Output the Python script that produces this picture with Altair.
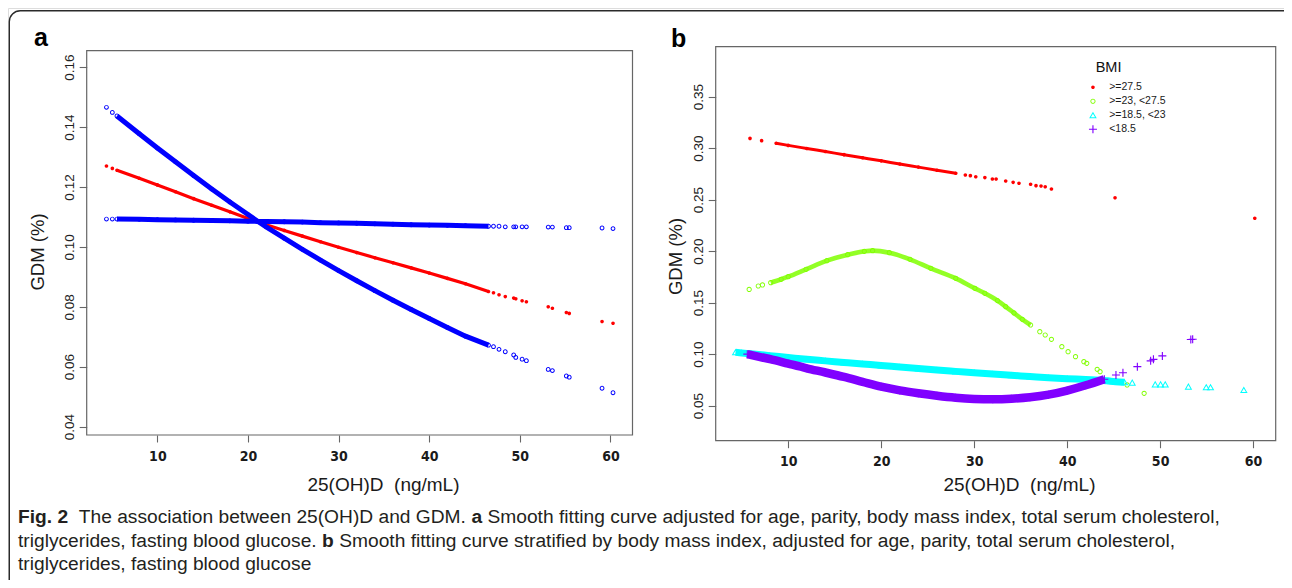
import altair as alt
import pandas as pd

# ---------------- panel a : estimate (red) and 95% CI (blue) ----------------
A_X = [4.38, 5.03, 5.54, 8, 10, 12, 14, 16, 18, 20, 21.15, 22, 24, 26, 28, 30, 32, 34, 36, 38, 40, 42, 44, 46.54,
       47.09, 47.7, 48.39, 49.32, 49.55, 50.25, 50.72, 53.13, 53.59, 55.13, 55.45, 59.07, 60.28]
A_FIT = [0.1270, 0.1262, 0.1256, 0.1229, 0.1207, 0.1184, 0.1161, 0.1139, 0.1117, 0.1095, 0.1083, 0.1074, 0.1055,
         0.1036, 0.1017, 0.0999, 0.0981, 0.0964, 0.0947, 0.0930, 0.0913, 0.0895, 0.0877, 0.0851,
         0.0847, 0.0840, 0.0834, 0.0829, 0.0827, 0.0820, 0.0817, 0.0800, 0.0795, 0.0781, 0.0778, 0.0751, 0.0745]
A_CI_STEEP = [0.1466, 0.1449, 0.1437, 0.1378, 0.1330, 0.1284, 0.1238, 0.1193, 0.1150, 0.1108, 0.1084, 0.1067, 0.1029,
              0.0992, 0.0956, 0.0921, 0.0887, 0.0854, 0.0822, 0.0791, 0.0761, 0.0731, 0.0702, 0.0672,
              0.0667, 0.0658, 0.0650, 0.0639, 0.0631, 0.0625, 0.0620, 0.0591, 0.0587, 0.0569, 0.0565, 0.0528, 0.0513]
A_CI_FLAT = [0.1093, 0.1093, 0.1093, 0.1092, 0.1091, 0.1090, 0.1089, 0.1088, 0.1087, 0.1086, 0.1085, 0.1085, 0.1084,
             0.1083, 0.1081, 0.1080, 0.1079, 0.1077, 0.1076, 0.1074, 0.1073, 0.1072, 0.1071, 0.1069,
             0.1069, 0.1069, 0.1067, 0.1067, 0.1067, 0.1067, 0.1067, 0.1066, 0.1066, 0.1064, 0.1064, 0.1063, 0.1061]

# ---------------- panel b : stratified by BMI ----------------
B_GROUPS = [">=27.5", ">=23, <27.5", ">=18.5, <23", "<18.5"]
B1_X = [5.89, 7.14, 8.70, 10, 12, 14, 16, 18, 20, 22, 24, 26, 28.02, 29.05, 29.59, 30.17, 31.15, 31.96, 32.36,
        33.39, 34.19, 34.82, 36.07, 36.65, 37.19, 37.64, 38.31, 45.15, 60.18]
B1_Y = [0.3095, 0.3073, 0.3047, 0.3027, 0.2997, 0.2967, 0.2937, 0.2907, 0.2877, 0.2846, 0.2816, 0.2786, 0.2756,
        0.2740, 0.2733, 0.2723, 0.2714, 0.2701, 0.2701, 0.2681, 0.2668, 0.2660, 0.2649, 0.2636, 0.2633, 0.2626,
        0.2604, 0.2519, 0.2319]
B2_X = [5.80, 6.78, 7.23, 8.12, 9.24, 10.0, 11.92, 14.16, 16.40, 18.18, 19.08, 20.87, 23.10, 25.34, 28.02, 30.08,
        31.15, 32.50, 33.39, 34.28, 35.18, 36.07, 37.06, 37.64, 38.31, 39.43, 40.10, 40.90, 41.80, 42.11, 43.23,
        43.54, 46.45, 48.28]
B2_Y = [0.1629, 0.1662, 0.1672, 0.1694, 0.1727, 0.1752, 0.1824, 0.1908, 0.1966, 0.1998, 0.2005, 0.1985, 0.1921,
        0.1833, 0.1736, 0.1639, 0.1591, 0.1520, 0.1461, 0.1400, 0.1338, 0.1283, 0.1218, 0.1186, 0.1144, 0.1073,
        0.1024, 0.0976, 0.0927, 0.0911, 0.0853, 0.0830, 0.0701, 0.0620]
B3_X = [4.33, 5.0, 6, 8, 10, 12, 14, 16, 18, 20, 22, 24, 26, 28, 30, 32, 34, 36, 38, 40, 42, 44, 44.66, 45.2,
        46.17, 47.0, 49.47, 50.05, 50.55, 53.04, 54.96, 55.42, 59.0]
B3_Y = [0.1018, 0.1012, 0.1004, 0.0986, 0.0968, 0.0950, 0.0935, 0.0920, 0.0905, 0.0891, 0.0875, 0.0860, 0.0846,
        0.0833, 0.0820, 0.0807, 0.0795, 0.0783, 0.0771, 0.0762, 0.0754, 0.0745, 0.0738, 0.0733, 0.0727, 0.0723,
        0.0706, 0.0706, 0.0706, 0.0684, 0.0679, 0.0679, 0.0652]
B4_X = [5.6, 7, 8.17, 10, 12, 14, 16, 18, 20, 22, 24, 26, 28, 30, 32, 34, 36, 38, 40, 42, 44, 45.25, 46.0, 47.55,
        48.98, 49.28, 50.24, 53.3, 53.5]
B4_Y = [0.1000, 0.0972, 0.0950, 0.0908, 0.0863, 0.0822, 0.0779, 0.0731, 0.0684, 0.0648, 0.0620, 0.0596, 0.0577,
        0.0566, 0.0563, 0.0568, 0.0582, 0.0607, 0.0647, 0.0698, 0.0757, 0.0798, 0.0820, 0.0879, 0.0935, 0.0950,
        0.0983, 0.1142, 0.1145]

X_TICKS = [10, 20, 30, 40, 50, 60]
A_Y_TICKS = [0.04, 0.06, 0.08, 0.10, 0.12, 0.14, 0.16]
B_Y_TICKS = [0.05, 0.10, 0.15, 0.20, 0.25, 0.30, 0.35]
X_TITLE = "25(OH)D\u00a0 (ng/mL)"
Y_TITLE = "GDM (%)"
LEGEND_TITLE = "BMI"
PANEL_LABELS = ["a", "b"]
CAPTION = [
    [("Fig. 2", True), ("The association between 25(OH)D and GDM.", False), ("a", True),
     ("Smooth fitting curve adjusted for age, parity, body mass index, total serum cholesterol,", False)],
    [("triglycerides, fasting blood glucose.", False), ("b", True),
     ("Smooth fitting curve stratified by body mass index, adjusted for age, parity, total serum cholesterol,", False)],
    [("triglycerides, fasting blood glucose", False)],
]

# ---------------- layout / style ----------------
W, H = 1276, 572
SANS = "Liberation Sans, Arial, sans-serif"
NARROW = "Liberation Sans Narrow, Arial Narrow, DejaVu Sans Condensed, sans-serif"
BOX = "#666666"
TXT = "#1a1a1a"

A_XDOM, A_YDOM = [2.2, 62.43], [0.0372, 0.1655]
B_XDOM, B_YDOM = [2.2, 62.43], [0.016, 0.3985]
A_XR, A_YR = [78.7, 624.5], [427.0, 42.7]
B_XR, B_YR = [707.7, 1267.7], [432.7, 38.7]

DOT = "M-0.45,0A0.45,0.45 0 1,0 0.45,0A0.45,0.45 0 1,0 -0.45,0Z"
RING = ("M-0.65,0A0.65,0.65 0 1,0 0.65,0A0.65,0.65 0 1,0 -0.65,0Z "
        "M-0.42,0A0.42,0.42 0 1,1 0.42,0A0.42,0.42 0 1,1 -0.42,0Z")
RING_A = ("M-0.6,0A0.6,0.6 0 1,0 0.6,0A0.6,0.6 0 1,0 -0.6,0Z "
          "M-0.36,0A0.36,0.36 0 1,1 0.36,0A0.36,0.36 0 1,1 -0.36,0Z")
TRI = "M0,-0.9L0.95,0.75L-0.95,0.75Z M0,-0.4L-0.52,0.5L0.52,0.5Z"
PLUS = ("M-1,-0.14L-0.14,-0.14L-0.14,-1L0.14,-1L0.14,-0.14L1,-0.14L1,0.14L0.14,0.14L0.14,1L-0.14,1"
        "L-0.14,0.14L-1,0.14Z")
B_COLORS = ["#FF0000", "#80FF00", "#00FFFF", "#8000FF"]
B_SHAPES = [DOT, RING, TRI, PLUS]


def x_axis(offset, title_x, title_y):
    return alt.Axis(orient="bottom", offset=offset, values=X_TICKS, format="d", grid=False, domain=False,
                    tickSize=7, tickColor=BOX, tickWidth=1.1, labelFont=NARROW, labelFontSize=14,
                    labelFontWeight="bold", labelColor=TXT, labelPadding=7, labelFlush=False,
                    title=X_TITLE, titleFont=SANS, titleFontSize=19, titleFontWeight="normal", titleColor=TXT,
                    titleX=title_x, titleY=title_y, titleAlign="center", titleBaseline="alphabetic")


def y_axis(offset, ticks, title_x, title_y, pad):
    return alt.Axis(orient="left", offset=offset, values=ticks, format=".2f", grid=False, domain=False,
                    tickSize=7.5, tickColor=BOX, tickWidth=1.1, labelFont=SANS, labelFontSize=13.5,
                    labelColor="#222222", labelAngle=270, labelAlign="center", labelBaseline="alphabetic",
                    labelPadding=pad, labelFlush=False,
                    title=Y_TITLE, titleFont=SANS, titleFontSize=18.5, titleFontWeight="normal", titleColor=TXT,
                    titleAngle=270, titleX=title_x, titleY=title_y, titleAlign="center",
                    titleBaseline="alphabetic")


def sc(dom, rng):
    return alt.Scale(domain=dom, range=rng, nice=False, zero=False)


units = []

# ---------------- panel a ----------------
df_a = pd.DataFrame({"x": A_X, "fit": A_FIT, "steep": A_CI_STEEP, "flat": A_CI_FLAT})
box_a = pd.DataFrame({"x1": [A_XDOM[0]], "x2": [A_XDOM[1]], "y1": [A_YDOM[0]], "y2": [A_YDOM[1]]})

units.append(alt.Chart(box_a).mark_rect(fill="transparent", stroke=BOX, strokeWidth=1.2).encode(
    x=alt.X("x1:Q", scale=sc(A_XDOM, A_XR), axis=x_axis(A_YR[0] - H, 375, 55)),
    x2="x2:Q",
    y=alt.Y("y1:Q", scale=sc(A_YDOM, A_YR), axis=y_axis(-A_XR[0], A_Y_TICKS, -42.7, 243.5, 5.7)),
    y2="y2:Q",
))
for field, color, width, shape in [("fit", "#FF0000", 3.2, DOT), ("steep", "#0000FF", 5, RING_A),
                                   ("flat", "#0000FF", 5, RING_A)]:
    base = alt.Chart(df_a)
    units.append(
        base.mark_line(color=color, strokeWidth=width).transform_filter(
            (alt.datum.x >= 5.5) & (alt.datum.x <= 46.6)
        ).encode(x=alt.X("x:Q", scale=sc(A_XDOM, A_XR), axis=None),
                 y=alt.Y(f"{field}:Q", scale=sc(A_YDOM, A_YR), axis=None))
    )
    units.append(
        base.mark_point(shape=shape, filled=True, size=64, color=color, opacity=1, strokeWidth=0).encode(
            x=alt.X("x:Q", scale=sc(A_XDOM, A_XR), axis=None),
            y=alt.Y(f"{field}:Q", scale=sc(A_YDOM, A_YR), axis=None))
    )

# ---------------- panel b ----------------
rows = []
for g, xs, ys in zip(B_GROUPS, [B1_X, B2_X, B3_X, B4_X], [B1_Y, B2_Y, B3_Y, B4_Y]):
    for xv, yv in zip(xs, ys):
        rows.append({"x": xv, "y": yv, "group": g})
df_b = pd.DataFrame(rows)
box_b = pd.DataFrame({"x1": [B_XDOM[0]], "x2": [B_XDOM[1]], "y1": [B_YDOM[0]], "y2": [B_YDOM[1]]})

legend = alt.Legend(title=None, orient="none", legendX=1079.7, legendY=74, padding=0,
                    labelFont=SANS, labelFontSize=10.5, labelColor=TXT, labelOffset=11,
                    symbolSize=64, symbolStrokeWidth=0, rowPadding=3)

units.append(alt.Chart(box_b).mark_rect(fill="transparent", stroke=BOX, strokeWidth=1.2).encode(
    x=alt.X("x1:Q", scale=sc(B_XDOM, B_XR), axis=x_axis(B_YR[0] - H, 1011, 49.3)),
    x2="x2:Q",
    y=alt.Y("y1:Q", scale=sc(B_YDOM, B_YR), axis=y_axis(-B_XR[0], B_Y_TICKS, -34.1, 248, 6.2)),
    y2="y2:Q",
))
dense = [(8.6, 28.1, 3.0, 1.0), (8.1, 36.1, 4.6, 0.85), (4.3, 46.2, 7.0, 1.0), (5.5, 44.1, 8.5, 1.0)]
for i, (g, col, (lo, hi, w, op)) in enumerate(zip(B_GROUPS, B_COLORS, dense)):
    base = alt.Chart(df_b).transform_filter(alt.datum.group == g)
    units.append(
        base.mark_line(color=col, strokeWidth=w, opacity=op, interpolate="monotone").transform_filter(
            (alt.datum.x >= lo) & (alt.datum.x <= hi)
        ).encode(x=alt.X("x:Q", scale=sc(B_XDOM, B_XR), axis=None),
                 y=alt.Y("y:Q", scale=sc(B_YDOM, B_YR), axis=None))
    )
    leg = legend if i == 0 else None
    units.append(base.mark_point(filled=True, size=64, opacity=1, strokeWidth=0).encode(
        x=alt.X("x:Q", scale=sc(B_XDOM, B_XR), axis=None),
        y=alt.Y("y:Q", scale=sc(B_YDOM, B_YR), axis=None),
        color=alt.Color("group:N", scale=alt.Scale(domain=B_GROUPS, range=B_COLORS), legend=leg),
        shape=alt.Shape("group:N", scale=alt.Scale(domain=B_GROUPS, range=B_SHAPES), legend=leg),
    ))

# ---------------- frame, panel letters, legend title, caption ----------------
one = pd.DataFrame({"k": [0]})
units.append(
    alt.Chart(one).mark_rect(fill="transparent", stroke="#2a2a2a", strokeWidth=1.4, cornerRadius=11).encode(
        x=alt.value(1.3), x2=alt.value(1300), y=alt.value(2.7), y2=alt.value(600))
)
for lab, (px, py) in zip(PANEL_LABELS, [(26, 37.5), (663, 38.5)]):
    units.append(alt.Chart(one).mark_text(text=lab, font=SANS, fontSize=25, fontWeight="bold", color="#000000",
                                          align="left", baseline="alphabetic").encode(
        x=alt.value(px), y=alt.value(py)))
units.append(alt.Chart(one).mark_text(text=LEGEND_TITLE, font=SANS, fontSize=14.5, color="#111111",
                                      align="left", baseline="alphabetic").encode(
    x=alt.value(1087.7), y=alt.value(64)))
CAP_X = [[10, 70.8, 463.5, 479.5], [10, 314, 331.2], [10]]
CAP_Y = [515, 538.7, 562]
for line, xs, yv in zip(CAPTION, CAP_X, CAP_Y):
    for (txt, bold), xv in zip(line, xs):
        units.append(alt.Chart(one).mark_text(text=txt, font=SANS, fontSize=19.2,
                                              fontWeight="bold" if bold else "normal", color="#231f20",
                                              align="left", baseline="alphabetic").encode(
            x=alt.value(xv), y=alt.value(yv)))

chart = alt.layer(*units).resolve_scale(
    x="independent", y="independent", color="independent", shape="independent"
).resolve_axis(x="independent", y="independent").resolve_legend(
    color="independent", shape="independent"
).properties(
    width=W, height=H, padding=0, autosize=alt.AutoSizeParams(type="none")
).configure_view(stroke=None).configure(background="white")

chart.save("out.html", embed_options={"renderer": "svg", "actions": False})
